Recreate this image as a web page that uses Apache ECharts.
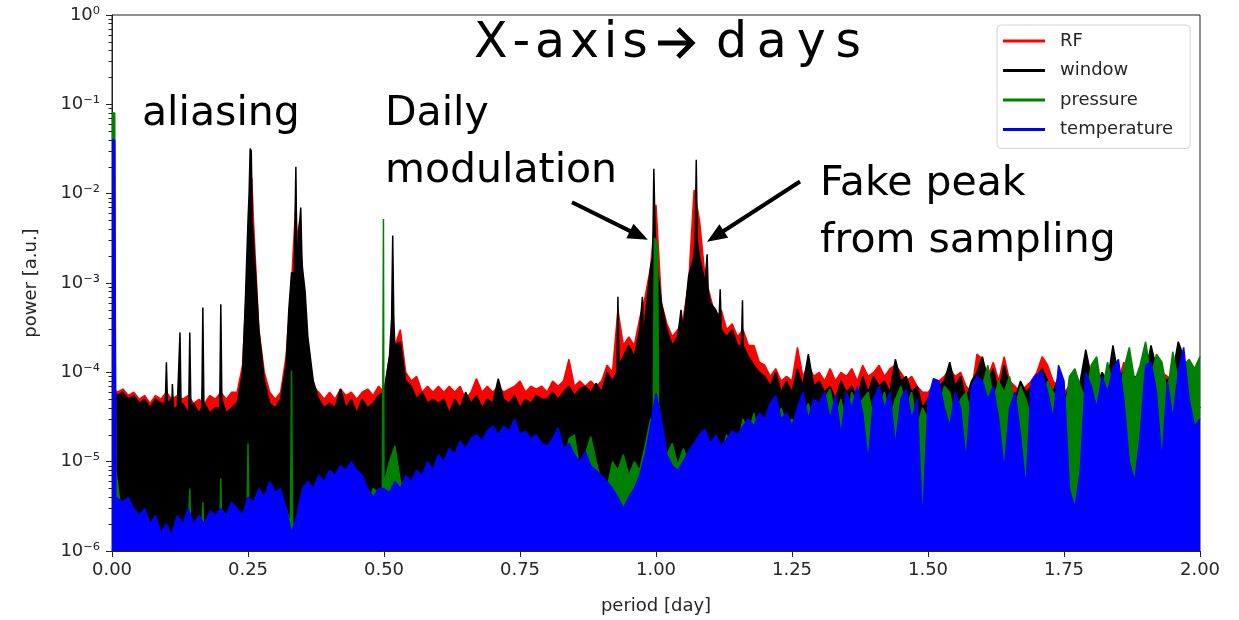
<!DOCTYPE html>
<html><head><meta charset="utf-8">
<script src="https://cdn.jsdelivr.net/npm/echarts@6/dist/echarts.min.js"></script>
<style>html,body{margin:0;padding:0;background:#fff}#c{width:1239px;height:620px}</style>
</head><body><div id="c"></div>
<script>
// frequency grid (period in days)
const period = [
0.00,0.01,0.02,0.03,0.04,0.05,0.06,0.07,0.08,0.09,
0.10,0.11,0.12,0.13,0.14,0.15,0.16,0.17,0.18,0.19,
0.20,0.21,0.22,0.23,0.24,0.25,0.26,0.27,0.28,0.29,
0.30,0.31,0.32,0.33,0.34,0.35,0.36,0.37,0.38,0.39,
0.40,0.41,0.42,0.43,0.44,0.45,0.46,0.47,0.48,0.49,
0.50,0.51,0.52,0.53,0.54,0.55,0.56,0.57,0.58,0.59,
0.60,0.61,0.62,0.63,0.64,0.65,0.66,0.67,0.68,0.69,
0.70,0.71,0.72,0.73,0.74,0.75,0.76,0.77,0.78,0.79,
0.80,0.81,0.82,0.83,0.84,0.85,0.86,0.87,0.88,0.89,
0.90,0.91,0.92,0.93,0.94,0.95,0.96,0.97,0.98,0.99,
1.00,1.01,1.02,1.03,1.04,1.05,1.06,1.07,1.08,1.09,
1.10,1.11,1.12,1.13,1.14,1.15,1.16,1.17,1.18,1.19,
1.20,1.21,1.22,1.23,1.24,1.25,1.26,1.27,1.28,1.29,
1.30,1.31,1.32,1.33,1.34,1.35,1.36,1.37,1.38,1.39,
1.40,1.41,1.42,1.43,1.44,1.45,1.46,1.47,1.48,1.49,
1.50,1.51,1.52,1.53,1.54,1.55,1.56,1.57,1.58,1.59,
1.60,1.61,1.62,1.63,1.64,1.65,1.66,1.67,1.68,1.69,
1.70,1.71,1.72,1.73,1.74,1.75,1.76,1.77,1.78,1.79,
1.80,1.81,1.82,1.83,1.84,1.85,1.86,1.87,1.88,1.89,
1.90,1.91,1.92,1.93,1.94,1.95,1.96,1.97,1.98,1.99,
2.00];

const rfPower = [
7e-5,6e-5,6.5e-5,5.5e-5,6e-5,5e-5,5.5e-5,4.5e-5,5.5e-5,5e-5,
6e-5,5e-5,5.5e-5,5e-5,5.5e-5,4.5e-5,5e-5,4.5e-5,5.5e-5,5e-5,
6e-5,5e-5,6e-5,6e-5,1.2e-4,2e-3,5e-3,3e-4,1e-4,6e-5,
5e-5,6e-5,1.5e-4,1e-3,3e-3,1e-3,2e-4,7e-5,6e-5,5e-5,
6e-5,5e-5,6.5e-5,5.5e-5,6e-5,5e-5,6e-5,6.5e-5,5.5e-5,7e-5,
6e-5,1.5e-4,2e-4,3e-4,1e-4,8e-5,9e-5,6e-5,7e-5,6e-5,
7e-5,6e-5,7e-5,6e-5,7e-5,5e-5,6e-5,8.5e-5,6e-5,7e-5,
6e-5,7e-5,6e-5,6.5e-5,7e-5,8e-5,6e-5,7e-5,6.5e-5,7e-5,
6e-5,8e-5,7e-5,8e-5,1.4e-4,7e-5,8e-5,7e-5,8e-5,7e-5,
8e-5,1.2e-4,1e-4,5e-4,2e-4,2.5e-4,2e-4,4e-4,7e-4,1.5e-3,
7.5e-3,6e-4,3.5e-4,2.5e-4,3e-4,4e-4,1e-3,1.1e-2,5e-3,1.2e-3,
7e-4,4e-4,5e-4,3e-4,3.5e-4,2.5e-4,3e-4,2e-4,2e-4,1.3e-4,
1.2e-4,9e-5,1.1e-4,8e-5,9e-5,8e-5,1.9e-4,9e-5,1.2e-4,9e-5,
1e-4,8e-5,1.1e-4,8e-5,1e-4,9e-5,1.1e-4,8e-5,1.2e-4,9e-5,
1e-4,1.2e-4,9e-5,1.1e-4,1.2e-4,1e-4,8e-5,9e-5,7e-5,6e-5,
6e-5,7e-5,8e-5,9e-5,1.1e-4,9e-5,1e-4,7e-5,6e-5,1.6e-4,
1.4e-4,9e-5,1.3e-4,8e-5,1.5e-4,8e-5,7e-5,6e-5,7e-5,8e-5,
1e-4,1.5e-4,1.2e-4,8e-5,7e-5,6e-5,7e-5,6e-5,8e-5,1e-4,
9e-5,7e-5,8e-5,9e-5,1e-4,8e-5,1.3e-4,9e-5,8e-5,9e-5,
1.1e-4,1.5e-4,1.4e-4,1e-4,9e-5,8e-5,9e-5,1e-4,7e-5,5e-5,
4e-5];

const windowPower = [
7e-5,5.5e-5,6e-5,5e-5,5.5e-5,4.5e-5,5e-5,4e-5,5e-5,4.5e-5,
1.3e-4,4.5e-5,4e-5,4.5e-5,3.5e-5,4.5e-5,3.5e-5,4.5e-5,3.5e-5,4e-5,
5.8e-4,3.5e-5,4e-5,4.5e-5,1e-4,5e-3,3e-3,3e-4,8e-5,4.5e-5,
4e-5,5e-5,1.2e-4,1.3e-3,1.5e-3,1.5e-3,2.5e-4,8e-5,5e-5,4e-5,
4.5e-5,4e-5,6.5e-5,4e-5,5e-5,3.5e-5,5e-5,4e-5,4.5e-5,5.5e-5,
6e-5,1.5e-4,2e-4,2.2e-4,8e-5,7e-5,5e-5,6e-5,4.5e-5,5e-5,
4.5e-5,5e-5,3.5e-5,5e-5,4e-5,6e-5,4.5e-5,5.5e-5,4e-5,5e-5,
4.5e-5,8.5e-5,5e-5,4.5e-5,5.5e-5,4e-5,5e-5,4.5e-5,5.5e-5,5e-5,
5e-5,6e-5,5e-5,6e-5,7e-5,5.5e-5,6.5e-5,7e-5,6e-5,7.5e-5,
6e-5,1e-4,8e-5,7e-4,1.5e-4,2e-4,1.5e-4,3e-4,4e-4,1.5e-3,
2e-3,6e-4,3e-4,2e-4,2.5e-4,3e-4,1.2e-3,2e-3,2e-3,1e-3,
6e-4,5e-4,3e-4,2.5e-4,3e-4,2e-4,2e-4,1.5e-4,1.2e-4,1e-4,
9e-5,7e-5,1e-4,6e-5,8e-5,6e-5,1.1e-4,7e-5,1.6e-4,7e-5,
8e-5,6e-5,7e-5,5e-5,8e-5,6e-5,7e-5,5e-5,9e-5,6e-5,
9e-5,7e-5,8e-5,6e-5,1.4e-4,8e-5,9e-5,6e-5,7e-5,4e-5,
5e-5,6e-5,7e-5,8e-5,1.3e-4,7e-5,9e-5,5e-5,8e-5,1e-4,
1.5e-4,8e-5,1.1e-4,6e-5,1.2e-4,7e-5,5e-5,8e-5,6e-5,7e-5,
9e-5,1.1e-4,8e-5,6e-5,9e-5,5e-5,7e-5,6e-5,8e-5,1.8e-4,
9e-5,7e-5,1e-4,8e-5,2e-4,9e-5,1e-4,7e-5,9e-5,8e-5,
1e-4,2e-4,1.1e-4,9e-5,8e-5,1e-4,2.2e-4,1.5e-4,6e-5,5e-5,
4e-5];

const pressurePower = [
8e-2,8e-6,2e-6,1.5e-6,2e-6,1.5e-6,1.2e-6,1.5e-6,1.2e-6,1.3e-6,
1.5e-6,1.2e-6,1.5e-6,1.3e-6,1.5e-6,1.3e-6,1.5e-6,1.5e-6,1.2e-6,1.5e-6,
6.5e-6,1.5e-6,2e-6,1.5e-6,2e-6,1.6e-5,2e-6,2.5e-6,3e-6,2.5e-6,
3e-6,2.5e-6,3e-6,2e-6,2e-6,3e-6,3e-6,3.5e-6,4e-6,3e-6,
4e-6,3.5e-6,4e-6,4e-6,5e-6,4e-6,3.5e-6,3e-6,5e-6,4.5e-6,
5e-6,1e-5,1.5e-5,6e-6,4e-6,5e-6,4e-6,5e-6,6e-6,5e-6,
6e-6,5e-6,7e-6,6e-6,8e-6,7e-6,9e-6,1e-5,8e-6,1e-5,
1.2e-5,1e-5,1.2e-5,1e-5,1.4e-5,1e-5,1.1e-5,9e-6,1e-5,8e-6,
8e-6,9e-6,1.2e-5,9e-6,1.8e-5,2e-5,8e-6,1.2e-5,1.9e-5,1e-5,
6e-6,5e-6,1e-5,8e-6,1.2e-5,7e-6,1e-5,8e-6,1.5e-5,3e-5,
3e-3,1.5e-5,1.2e-5,1.6e-5,9e-6,1.4e-5,1e-5,1.5e-5,1.2e-5,1.8e-5,
1e-5,1.5e-5,1.2e-5,2e-5,1e-5,1.5e-5,3e-5,2e-5,3.5e-5,1.5e-5,
2.5e-5,3e-5,2e-5,4e-5,2.5e-5,3e-5,2e-5,3e-5,4.5e-5,2.5e-5,
3e-5,5e-5,6.5e-5,3e-5,5e-5,2.5e-5,6e-5,4e-5,5e-5,6e-5,
3e-5,4e-5,6e-5,3e-5,5e-5,7e-5,4e-5,6e-5,2.5e-5,4e-5,
3e-5,2e-5,4e-5,7e-5,6e-5,3e-5,5e-5,6e-5,3e-5,5e-5,
7e-5,1.2e-4,5e-5,8e-5,6e-5,9e-5,4e-5,7e-5,5e-5,3e-5,
5e-5,4e-5,8e-5,6e-5,5e-5,3e-5,9e-5,1.1e-4,7e-5,5e-5,
1.2e-4,1.5e-4,6e-5,1.3e-4,7e-5,5e-5,1.1e-4,1.9e-4,8e-5,1.2e-4,
2.2e-4,9e-5,1.6e-4,1.3e-4,6e-5,1.7e-4,8e-5,1.2e-4,1.4e-4,1.1e-4,
1.5e-4];

const temperaturePower = [
4e-2,4e-6,3.5e-6,4e-6,3e-6,2.5e-6,3e-6,2e-6,2.5e-6,1.6e-6,
2e-6,1.5e-6,2.5e-6,2e-6,3e-6,2e-6,2.5e-6,2e-6,2.8e-6,2.5e-6,
3e-6,2.5e-6,3.5e-6,3e-6,2.5e-6,4e-6,3.5e-6,5e-6,4e-6,6e-6,
4.5e-6,5e-6,3e-6,1.6e-6,2.5e-6,5e-6,6e-6,5e-6,7e-6,6e-6,
8e-6,7e-6,9e-6,8e-6,1e-5,8e-6,7e-6,5e-6,4e-6,5e-6,
5e-6,4.5e-6,6e-6,5e-6,7e-6,6e-6,8e-6,7e-6,1e-5,8e-6,
1.2e-5,1e-5,1.4e-5,1.2e-5,1.7e-5,1.4e-5,1.8e-5,2e-5,1.7e-5,2.2e-5,
2.5e-5,2e-5,2.5e-5,2.2e-5,3e-5,2e-5,2.2e-5,1.8e-5,2e-5,1.6e-5,
1.5e-5,1.8e-5,2.4e-5,1.4e-5,1.6e-5,1.2e-5,1e-5,1.3e-5,9e-6,8e-6,
7e-6,6e-6,5e-6,4e-6,3e-6,4e-6,5e-6,7e-6,1.2e-5,2.5e-5,
5.8e-5,3e-5,1.2e-5,9e-6,8e-6,1e-5,1.3e-5,1.6e-5,2e-5,2.3e-5,
1.6e-5,2e-5,1.5e-5,1.8e-5,2.2e-5,2e-5,2.5e-5,3e-5,2.5e-5,3.5e-5,
3e-5,4.5e-5,5.5e-5,3e-5,3.5e-5,2.5e-5,4e-5,6e-5,3e-5,5e-5,
4.5e-5,6e-5,3e-5,5.5e-5,2e-5,6e-5,4e-5,7e-5,3.5e-5,1e-5,
5e-5,7e-5,4e-5,6e-5,1.5e-5,5e-5,6.5e-5,3e-5,5e-5,2e-6,
5e-5,8.5e-5,8e-5,4e-5,2.5e-5,6e-5,4e-5,1e-5,7e-5,9e-5,
8e-5,5e-5,7e-5,3e-5,8e-6,4e-5,6e-5,2e-5,5e-6,8e-5,
9.5e-5,1e-4,6e-5,3e-5,1.2e-4,8e-5,5e-6,3e-6,8e-6,1e-4,
7e-5,4e-5,9e-5,6e-5,1.1e-4,1.4e-4,5e-5,1e-5,6e-6,2e-5,
1.2e-4,1.3e-4,6e-5,1e-5,8e-5,3e-5,1e-4,1.9e-4,5e-5,2.5e-5,
3e-5];

// narrow peaks between grid points: [period, power]
const rfPeaks = [[0.257,1.5e-2],[0.338,8e-3],[0.345,5e-3]];
const windowPeaks = [
[0.098,4.5e-5],[0.102,4.5e-5],
[0.109,5e-5],[0.111,7.4e-5],[0.113,4e-5],
[0.123,4e-5],[0.125,2.8e-4],[0.127,4e-5],
[0.141,4e-5],[0.143,2.8e-4],[0.145,4e-5],
[0.165,4e-5],[0.167,5.3e-4],[0.169,4e-5],
[0.198,4e-5],[0.202,5e-5],
[0.245,6e-4],[0.252,1e-2],[0.254,3.2e-2],[0.256,3e-2],[0.258,5e-3],[0.265,1e-3],
[0.325,5e-4],[0.335,1.3e-3],[0.338,2e-2],[0.341,2e-3],[0.344,4e-3],[0.347,7e-3],[0.349,2e-3],[0.355,8e-4],
[0.514,4e-4],[0.516,3.4e-3],[0.518,4e-4],
[0.928,1e-4],[0.932,1.2e-4],
[0.975,7e-4],[0.977,2e-4],
[0.994,2e-3],[0.996,1.9e-2],[0.998,5e-3],
[1.013,6e-4],[1.046,5e-4],
[1.072,3e-3],[1.074,2.4e-2],[1.076,3e-3],
[1.092,1e-3],[1.094,2.1e-3],[1.096,8e-4],
[1.116,4e-4],[1.118,8.5e-4],
[1.157,2e-4],[1.159,6.4e-4],[1.161,2e-4]];
const pressurePeaks = [
[0.005,8e-2],[0.007,8e-6],
[0.141,1.5e-6],[0.143,5e-6],[0.145,1.5e-6],
[0.165,1.5e-6],[0.167,3.5e-6],[0.169,1.5e-6],
[0.198,1.5e-6],[0.202,1.5e-6],
[0.248,2e-6],[0.252,2e-6],
[0.328,2e-6],[0.330,1.05e-4],[0.332,2e-6],
[0.497,5e-6],[0.499,5.2e-3],[0.501,6e-6],
[0.995,3e-5],[0.997,3.2e-3],[1.003,2.5e-3],[1.005,2e-5]];
const temperaturePeaks = [[0.005,4e-2],[0.007,4e-6]];

const seriesNames = ['RF','window','pressure','temperature'];
const seriesColors = ['#ff0000','#000000','#008000','#0000ff'];
const minorMantissa = [2,3,4,5,6,7,8,9];
const decadeExponents = [-6,-5,-4,-3,-2,-1];
// annotation arrows (data coordinates: [period, power])
const arrowCoords = [
  [[0.8456,8.0e-3],[0.985,3.04e-3]],
  [[1.2647,1.37e-2],[1.0938,2.89e-3]]
];

function build(vals, peaks){
  return period.map((x,i)=>[x, vals[i]]).concat(peaks).sort((a,b)=>a[0]-b[0]);
}
const minorTicks = [];
decadeExponents.forEach(e => minorMantissa.forEach(m => minorTicks.push(m*Math.pow(10,e))));

const supMap = {'-':'\u207B','0':'\u2070','1':'\u00B9','2':'\u00B2','3':'\u00B3','4':'\u2074','5':'\u2075','6':'\u2076','7':'\u2077','8':'\u2078','9':'\u2079'};
function supLabel(v){
  const e = Math.round(Math.log10(v));
  return '10' + String(e).split('').map(c=>supMap[c]).join('');
}

const allData = [
  build(rfPower, rfPeaks),
  build(windowPower, windowPeaks),
  build(pressurePower, pressurePeaks),
  build(temperaturePower, temperaturePeaks)
];

const series = seriesNames.map((name,i)=>({
  name, type:'line', data: allData[i], symbol:'none', showSymbol:false, silent:true,
  sampling: null, animation:false, z: 2 + i,
  lineStyle:{color:seriesColors[i], width:1.5},
  itemStyle:{color:seriesColors[i]},
  areaStyle:{color:seriesColors[i], opacity:1, origin:'start'}
}));

const labelFont = 'DejaVu Sans';
const txtColor = '#262626';
const annFont = 'DejaVu Sans';
const hs = '\u200A';
const chart = echarts.init(document.getElementById('c'), null, {renderer:'canvas'});
const baseGraphic = [
  {type:'text', left:474, top:20, silent:true, style:{text:['X','-','a','x','i','s'].join(hs), fontFamily:annFont, fontSize:49, fill:'#000'}},
  {type:'line', silent:true, shape:{x1:658, y1:43, x2:690, y2:43}, style:{stroke:'#000', lineWidth:5}},
  {type:'polyline', silent:true, shape:{points:[[678,29],[692,43],[678,57]]}, style:{stroke:'#000', lineWidth:5, fill:null}},
  {type:'text', left:716, top:20, silent:true, style:{text:['d','a','y','s'].join(hs+hs), fontFamily:annFont, fontSize:49, fill:'#000'}},
  {type:'text', left:142, top:94, silent:true, style:{text:'aliasing', fontFamily:annFont, fontSize:41, fill:'#000'}},
  {type:'text', left:385, top:94, silent:true, style:{text:'Daily', fontFamily:annFont, fontSize:41, fill:'#000'}},
  {type:'text', left:385, top:151, silent:true, style:{text:'modulation', fontFamily:annFont, fontSize:41, fill:'#000'}},
  {type:'text', left:820, top:164, silent:true, style:{text:'Fake peak', fontFamily:annFont, fontSize:41, fill:'#000'}},
  {type:'text', left:820, top:221, silent:true, style:{text:'from sampling', fontFamily:annFont, fontSize:41, fill:'#000'}}
];
chart.setOption({
  backgroundColor:'#fff',
  animation:false,
  grid:{left:112, right:39, top:15, bottom:63, show:true, borderColor:'#222', borderWidth:1, backgroundColor:'transparent'},
  legend:{
    orient:'vertical', left:997, top:25, padding:[6,17,9,6], itemGap:9.5,
    itemWidth:42, itemHeight:3, icon:'rect',
    backgroundColor:'rgba(255,255,255,0.85)', borderColor:'#d4d4d4', borderWidth:1, borderRadius:4,
    textStyle:{fontFamily:labelFont, fontSize:18, color:txtColor, lineHeight:20, padding:[0,0,0,10]},
    data:seriesNames
  },
  xAxis:{
    type:'value', min:0, max:2, interval:0.25,
    name:'period [day]', nameLocation:'middle', nameGap:46,
    nameTextStyle:{fontFamily:labelFont, fontSize:18, color:txtColor},
    axisLine:{show:true, lineStyle:{color:'#222', width:1}},
    axisTick:{show:true, length:6, lineStyle:{color:'#222'}},
    axisLabel:{fontFamily:labelFont, fontSize:18, color:txtColor, margin:10, formatter:v=>v.toFixed(2)},
    splitLine:{show:false}
  },
  yAxis:[{
    type:'log', logBase:10, min:1e-6, max:1, interval:1,
    name:'power [a.u.]', nameLocation:'middle', nameGap:72,
    nameTextStyle:{fontFamily:labelFont, fontSize:18, color:txtColor},
    axisLine:{show:true, lineStyle:{color:'#222', width:1}},
    axisTick:{show:true, length:6, lineStyle:{color:'#222'}},
    axisLabel:{fontFamily:labelFont, fontSize:18, color:txtColor, margin:12, formatter:supLabel},
    splitLine:{show:false}, minorTick:{show:false}
  },{
    type:'log', logBase:10, min:1e-6, max:1, position:'left', offset:0,
    axisLine:{show:false}, axisLabel:{show:false}, splitLine:{show:false},
    axisTick:{show:true, length:3.5, lineStyle:{color:'#222'}, customValues:minorTicks}
  }],
  series,
  graphic: baseGraphic
});

// arrows placed from data coordinates
const arrowGraphic = [];
arrowCoords.forEach(([a,b])=>{
  const p1 = chart.convertToPixel({gridIndex:0}, a);
  const p2 = chart.convertToPixel({gridIndex:0}, b);
  const dx = p2[0]-p1[0], dy = p2[1]-p1[1];
  const len = Math.sqrt(dx*dx+dy*dy);
  const ux = dx/len, uy = dy/len, px = -uy, py = ux;
  const headL = 20, headW = 8;
  const bx = p2[0]-ux*headL, by = p2[1]-uy*headL;
  arrowGraphic.push({type:'line', silent:true, z:100, shape:{x1:p1[0], y1:p1[1], x2:bx+ux*2, y2:by+uy*2}, style:{stroke:'#000', lineWidth:4}});
  arrowGraphic.push({type:'polygon', silent:true, z:100, shape:{points:[[p2[0],p2[1]],[bx+px*headW,by+py*headW],[bx-px*headW,by-py*headW]]}, style:{fill:'#000'}});
});
chart.setOption({graphic: baseGraphic.concat(arrowGraphic)});
</script></body></html>
